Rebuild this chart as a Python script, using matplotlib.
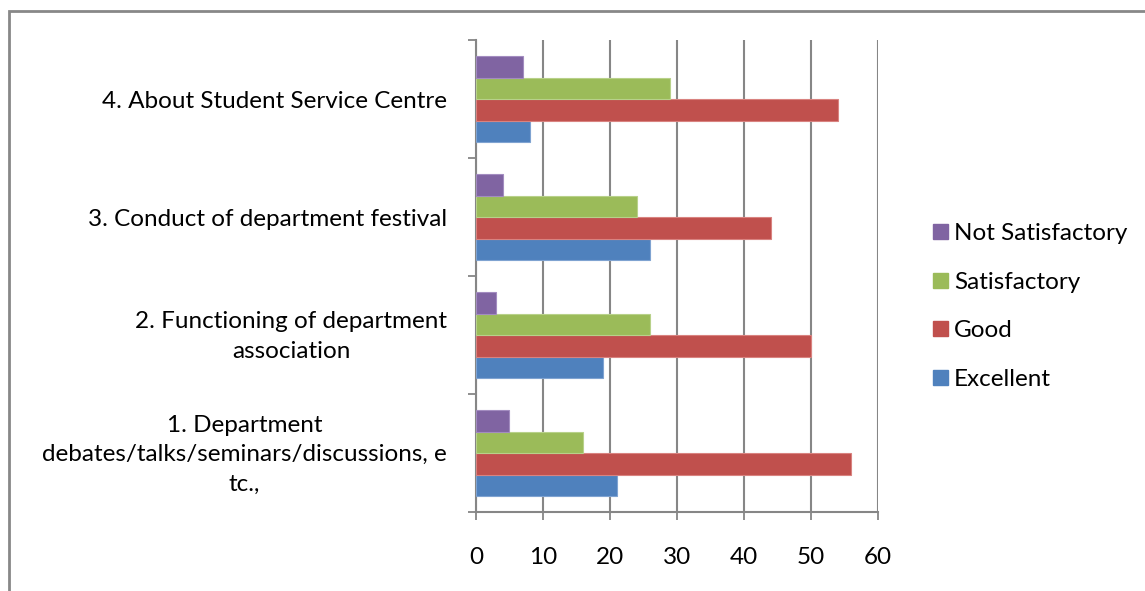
import matplotlib
matplotlib.use("Agg")
import matplotlib.pyplot as plt
from matplotlib.patches import Rectangle, Patch
from matplotlib.transforms import Affine2D
import numpy as np

plt.rcParams['font.family'] = ['Lato', 'DejaVu Sans']

categories = [
    "1. Department\ndebates/talks/seminars/discussions, e\ntc.,",
    "2. Functioning of department\nassociation",
    "3. Conduct of department festival",
    "4. About Student Service Centre",
]
series_names = ["Excellent", "Good", "Satisfactory", "Not Satisfactory"]
excellent = [21, 19, 26, 8]
good = [56, 50, 44, 54]
satisfactory = [16, 26, 24, 29]
not_satisfactory = [5, 3, 4, 7]
x_ticks = [0, 10, 20, 30, 40, 50, 60]

colors = ["#4F81BD", "#C0504D", "#9BBB59", "#8064A2"]
edges = ["#7FA3D1", "#D98380", "#B8D18A", "#A38CC0"]
grid_col = "#868686"
FS = 17.5

W, H = 1145, 591
fig = plt.figure(figsize=(W / 100, H / 100), dpi=100)
ax = fig.add_axes([476 / W, 1 - 512.3 / H, (877.7 - 476) / W, (512.3 - 40) / H])

y = np.arange(len(categories))
h = 1 / 5.5
all_series = [excellent, good, satisfactory, not_satisfactory]
for i, (vals, c, ec) in enumerate(zip(all_series, colors, edges)):
    ax.barh(y + (i - 1.5) * h, vals, height=h, color=c, edgecolor=ec,
            linewidth=0.8, zorder=3)

ax.set_xlim(0, 60)
ax.set_ylim(-0.5, len(categories) - 0.5)
ax.set_xticks(x_ticks)
ax.set_xticklabels([str(v) for v in x_ticks], fontsize=FS)
ax.xaxis.grid(True, color=grid_col, linewidth=1.5, zorder=0)

# category boundaries carry tick marks, labels sit at band centres
ax.set_yticks(np.arange(-0.5, len(categories), 1.0))
ax.set_yticklabels([])
ax.set_yticks(y, minor=True)
ax.set_yticklabels(categories, minor=True, fontsize=FS, ha='center',
                   multialignment='center', linespacing=1.5)
ax.tick_params(axis='y', which='minor', length=0, pad=0)
ax.tick_params(axis='y', which='major', length=6, width=1.3, color=grid_col)
ax.tick_params(axis='x', length=6, width=1.3, color=grid_col, pad=19)

for s in ['top', 'right']:
    ax.spines[s].set_visible(False)
for s in ['left', 'bottom']:
    ax.spines[s].set_color(grid_col)
    ax.spines[s].set_linewidth(1.5)

fig.canvas.draw()
# shift the centred category labels so their right edge sits near the axis
renderer = fig.canvas.get_renderer()
for lbl in ax.get_yticklabels(minor=True):
    bb = lbl.get_window_extent(renderer)
    dx = 447 - bb.x1
    dy = 5 if "\n" in lbl.get_text() else 0
    lbl.set_transform(lbl.get_transform() + Affine2D().translate(dx, dy))

handles = [Patch(facecolor=colors[i], edgecolor=colors[i]) for i in range(3, -1, -1)]
labels = [series_names[i] for i in range(3, -1, -1)]
fig.legend(handles, labels, loc='center left',
           bbox_to_anchor=(933 / W, 1 - 306.5 / H), frameon=False,
           fontsize=FS, handlelength=0.62, handleheight=0.58,
           handletextpad=0.25, labelspacing=1.13, borderpad=0, borderaxespad=0)

# outer chart border
fig.patches.append(Rectangle((8.5 / W, -0.1), 1.2, 1 - 11 / H + 0.1,
                             transform=fig.transFigure, fill=False,
                             edgecolor="#888888", linewidth=2))

fig.savefig("out.png", dpi=100)
